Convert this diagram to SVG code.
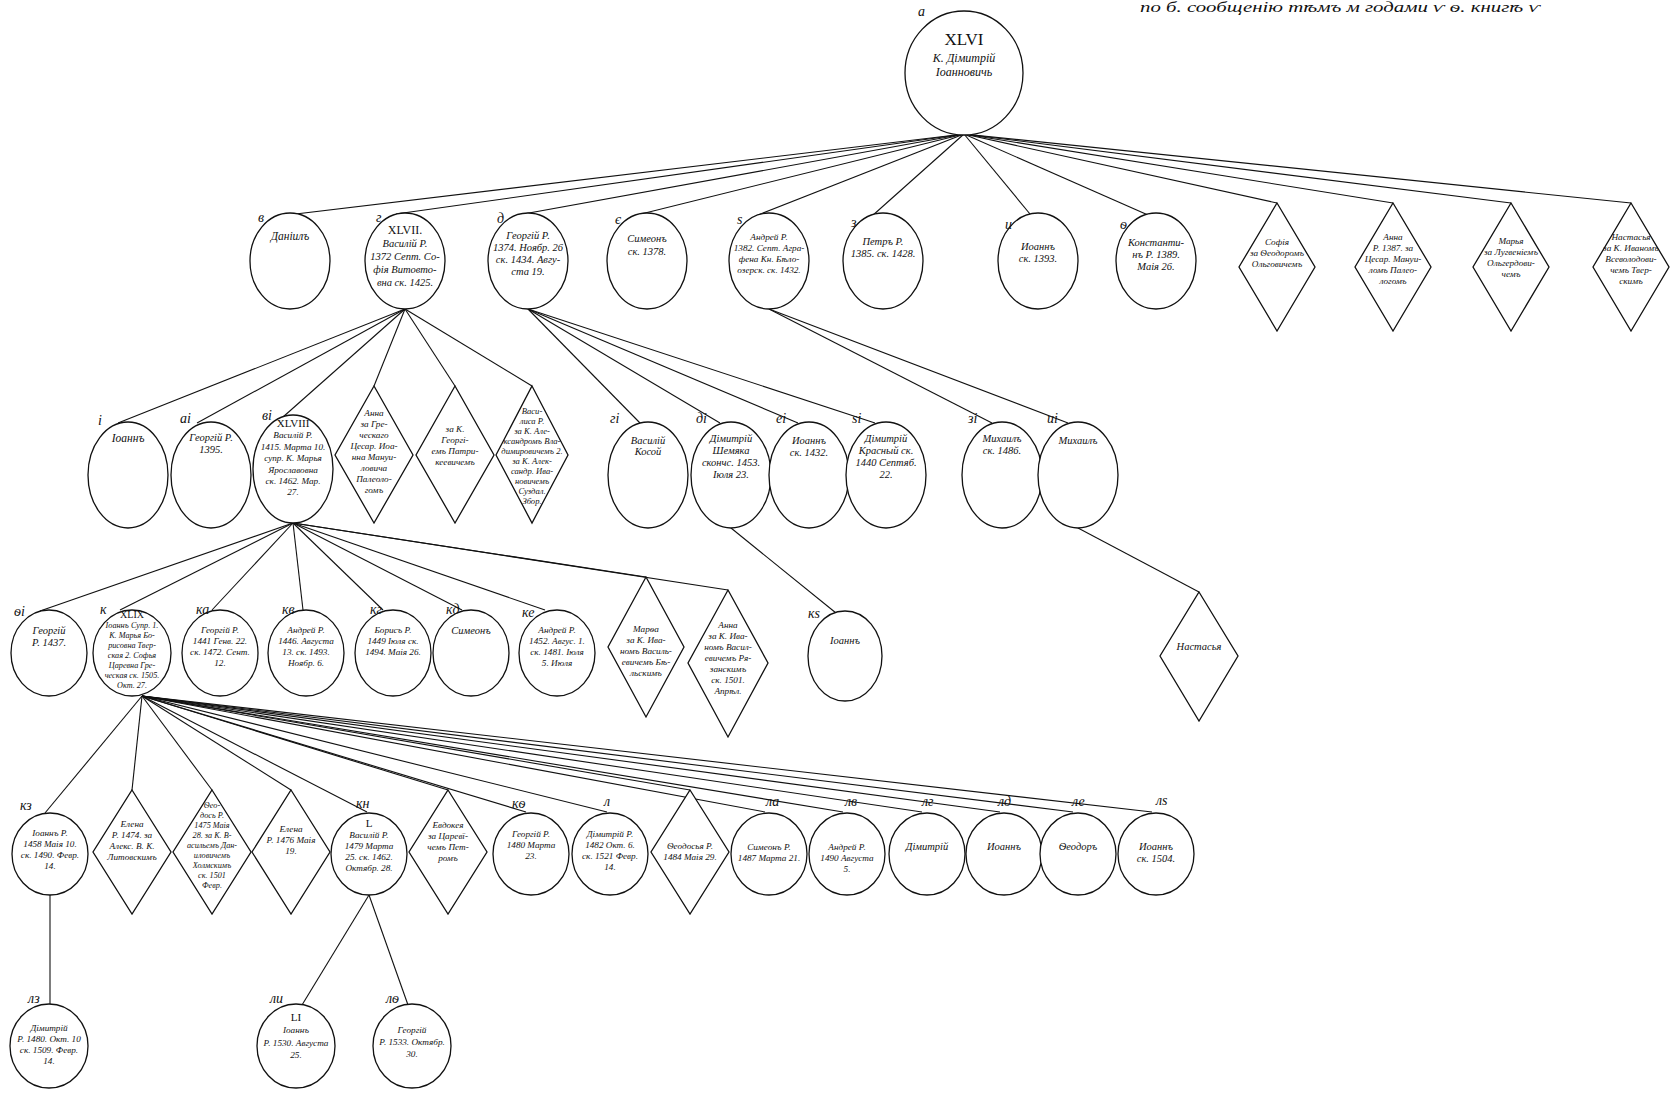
<svg xmlns="http://www.w3.org/2000/svg" width="1674" height="1099" viewBox="0 0 1674 1099">
<style>
.n{fill:#fff;stroke:#111;stroke-width:1.3}
.c line{stroke:#111;stroke-width:1.1}
.t{font-family:"Liberation Serif","DejaVu Serif",serif;font-style:italic;font-size:10.5px;fill:#111;text-anchor:middle}
.s{font-size:9.2px}
.m{font-size:11.5px}
.lb{font-family:"Liberation Serif","DejaVu Serif",serif;font-style:italic;font-size:14px;fill:#111}
.rn{font-style:normal;font-size:12px}
</style>
<rect width="1674" height="1099" fill="#fff"/>
<text class="t" x="1340" y="12" style="font-size:14px" textLength="400" lengthAdjust="spacingAndGlyphs">по б. сообщенію тѣмъ м годами ѵ ѳ. книгѣ ѵ</text>

<g id="connectors" class="c">
<line x1="964" y1="134" x2="279" y2="216"/>
<line x1="964" y1="134" x2="396" y2="214"/>
<line x1="964" y1="134" x2="518" y2="215"/>
<line x1="964" y1="134" x2="637" y2="215"/>
<line x1="964" y1="134" x2="758" y2="215"/>
<line x1="964" y1="134" x2="872" y2="216"/>
<line x1="964" y1="134" x2="1030" y2="214"/>
<line x1="964" y1="134" x2="1148" y2="215"/>
<line x1="964" y1="134" x2="1277" y2="203"/>
<line x1="964" y1="134" x2="1393" y2="203"/>
<line x1="964" y1="134" x2="1511" y2="203"/>
<line x1="964" y1="134" x2="1631" y2="203"/>
<line x1="405" y1="309" x2="118" y2="423"/>
<line x1="405" y1="309" x2="197" y2="423"/>
<line x1="405" y1="309" x2="283" y2="417"/>
<line x1="405" y1="309" x2="374" y2="386"/>
<line x1="405" y1="309" x2="455" y2="386"/>
<line x1="405" y1="309" x2="532" y2="386"/>
<line x1="528" y1="309" x2="640" y2="423"/>
<line x1="528" y1="309" x2="720" y2="423"/>
<line x1="528" y1="309" x2="798" y2="423"/>
<line x1="528" y1="309" x2="875" y2="423"/>
<line x1="769" y1="309" x2="992" y2="423"/>
<line x1="769" y1="309" x2="1068" y2="423"/>
<line x1="731" y1="528" x2="836" y2="613"/>
<line x1="1078" y1="528" x2="1199" y2="592"/>
<line x1="293" y1="523" x2="40" y2="611"/>
<line x1="293" y1="523" x2="120" y2="610"/>
<line x1="293" y1="523" x2="212" y2="610"/>
<line x1="293" y1="523" x2="303" y2="610"/>
<line x1="293" y1="523" x2="383" y2="610"/>
<line x1="293" y1="523" x2="462" y2="610"/>
<line x1="293" y1="523" x2="545" y2="610"/>
<line x1="293" y1="523" x2="646" y2="577"/>
<line x1="293" y1="523" x2="728" y2="590"/>
<line x1="142" y1="696" x2="45" y2="813"/>
<line x1="142" y1="696" x2="132" y2="790"/>
<line x1="142" y1="696" x2="212" y2="790"/>
<line x1="142" y1="696" x2="291" y2="790"/>
<line x1="142" y1="696" x2="367" y2="812"/>
<line x1="142" y1="696" x2="448" y2="790"/>
<line x1="142" y1="696" x2="526" y2="812"/>
<line x1="142" y1="696" x2="607" y2="812"/>
<line x1="142" y1="696" x2="690" y2="790"/>
<line x1="142" y1="696" x2="765" y2="812"/>
<line x1="142" y1="696" x2="843" y2="812"/>
<line x1="142" y1="696" x2="922" y2="812"/>
<line x1="142" y1="696" x2="1000" y2="812"/>
<line x1="142" y1="696" x2="1073" y2="812"/>
<line x1="142" y1="696" x2="1152" y2="812"/>
<line x1="50" y1="895" x2="50" y2="1004"/>
<line x1="369" y1="895" x2="302" y2="1005"/>
<line x1="369" y1="895" x2="408" y2="1005"/>
</g>

<g id="n-a"><ellipse class="n" cx="964" cy="73" rx="59" ry="62"/><text class="lb" x="918" y="16">а</text>
<text class="t" x="964" y="45" style="font-style:normal;font-size:17px">XLVI</text>
<text class="t" x="964" y="62" style="font-size:12px">К. Дімитрій<tspan x="964" dy="14">Іоанновичь</tspan></text></g>

<g id="n-v"><ellipse class="n" cx="290" cy="261" rx="40" ry="48"/><text class="lb" x="258" y="222">в</text>
<text class="t m" x="290" y="240">Даніилъ</text></g>
<g id="n-g"><ellipse class="n" cx="405" cy="261" rx="40" ry="48"/><text class="lb" x="376" y="222">г</text>
<text class="t" x="405" y="234"><tspan class="rn">XLVII.</tspan><tspan x="405" dy="13">Василій Р.</tspan><tspan x="405" dy="13">1372 Септ. Со-</tspan><tspan x="405" dy="13">фія Витовто-</tspan><tspan x="405" dy="13">вна ск. 1425.</tspan></text></g>
<g id="n-d"><ellipse class="n" cx="528" cy="261" rx="40" ry="48"/><text class="lb" x="497" y="223">д</text>
<text class="t" x="528" y="239">Георгій Р.<tspan x="528" dy="12">1374. Ноябр. 26</tspan><tspan x="528" dy="12">ск. 1434. Авгу-</tspan><tspan x="528" dy="12">ста 19.</tspan></text></g>
<g id="n-e"><ellipse class="n" cx="647" cy="261" rx="40" ry="48"/><text class="lb" x="615" y="224">є</text>
<text class="t" x="647" y="242">Симеонъ<tspan x="647" dy="13">ск. 1378.</tspan></text></g>
<g id="n-s"><ellipse class="n" cx="769" cy="261" rx="40" ry="48"/><text class="lb" x="737" y="224">ѕ</text>
<text class="t s" x="769" y="240">Андрей Р.<tspan x="769" dy="11">1382. Септ. Агра-</tspan><tspan x="769" dy="11">фена Кн. Бѣло-</tspan><tspan x="769" dy="11">озерск. ск. 1432.</tspan></text></g>
<g id="n-z"><ellipse class="n" cx="883" cy="261" rx="40" ry="48"/><text class="lb" x="851" y="227">з</text>
<text class="t" x="883" y="245">Петръ Р.<tspan x="883" dy="12">1385. ск. 1428.</tspan></text></g>
<g id="n-i"><ellipse class="n" cx="1038" cy="261" rx="40" ry="48"/><text class="lb" x="1005" y="229">и</text>
<text class="t" x="1038" y="250">Иоаннъ<tspan x="1038" dy="12">ск. 1393.</tspan></text></g>
<g id="n-f"><ellipse class="n" cx="1156" cy="261" rx="40" ry="48"/><text class="lb" x="1120" y="229">ѳ</text>
<text class="t" x="1156" y="246">Константи-<tspan x="1156" dy="12">нъ Р. 1389.</tspan><tspan x="1156" dy="12">Маія 26.</tspan></text></g>
<g id="n-sofia"><polygon class="n" points="1277,203 1315,267 1277,331 1239,267"/>
<text class="t s" x="1277" y="245">Софія<tspan x="1277" dy="11">за Ѳеодоромъ</tspan><tspan x="1277" dy="11">Ольговичемъ</tspan></text></g>
<g id="n-anna1"><polygon class="n" points="1393,203 1431,267 1393,331 1355,267"/>
<text class="t s" x="1393" y="240">Анна<tspan x="1393" dy="11">Р. 1387. за</tspan><tspan x="1393" dy="11">Цесар. Мануи-</tspan><tspan x="1393" dy="11">ломъ Палео-</tspan><tspan x="1393" dy="11">логомъ</tspan></text></g>
<g id="n-marya"><polygon class="n" points="1511,203 1549,267 1511,331 1473,267"/>
<text class="t s" x="1511" y="244">Марья<tspan x="1511" dy="11">за Лугвеніемъ</tspan><tspan x="1511" dy="11">Ольгердови-</tspan><tspan x="1511" dy="11">чемъ</tspan></text></g>
<g id="n-nastasya1"><polygon class="n" points="1631,203 1669,267 1631,331 1593,267"/>
<text class="t s" x="1631" y="240">Настасья<tspan x="1631" dy="11">за К. Иваномъ</tspan><tspan x="1631" dy="11">Всеволодови-</tspan><tspan x="1631" dy="11">чемъ Твер-</tspan><tspan x="1631" dy="11">скимъ</tspan></text></g>

<g id="n-10"><ellipse class="n" cx="128" cy="475" rx="40" ry="53"/><text class="lb" x="98" y="425">і</text>
<text class="t m" x="128" y="442">Іоаннъ</text></g>
<g id="n-11"><ellipse class="n" cx="211" cy="475" rx="40" ry="53"/><text class="lb" x="180" y="423">аі</text>
<text class="t" x="211" y="441">Георгій Р.<tspan x="211" dy="12">1395.</tspan></text></g>
<g id="n-12"><ellipse class="n" cx="293" cy="469" rx="40" ry="54"/><text class="lb" x="262" y="420">ві</text>
<text class="t s" x="293" y="427"><tspan class="rn" style="font-size:11px">XLVIII</tspan><tspan x="293" dy="11.4">Василій Р.</tspan><tspan x="293" dy="11.4">1415. Марта 10.</tspan><tspan x="293" dy="11.4">супр. К. Марья</tspan><tspan x="293" dy="11.4">Ярославовна</tspan><tspan x="293" dy="11.4">ск. 1462. Мар.</tspan><tspan x="293" dy="11.4">27.</tspan></text></g>
<g id="n-anna2"><polygon class="n" points="374,386 413,455 374,523 335,455"/>
<text class="t s" x="374" y="416">Анна<tspan x="374" dy="11">за Гре-</tspan><tspan x="374" dy="11">ческаго</tspan><tspan x="374" dy="11">Цесар. Иоа-</tspan><tspan x="374" dy="11">нна Мануи-</tspan><tspan x="374" dy="11">ловича</tspan><tspan x="374" dy="11">Палеоло-</tspan><tspan x="374" dy="11">гомъ</tspan></text></g>
<g id="n-daughter2"><polygon class="n" points="455,386 494,455 455,523 416,455"/>
<text class="t s" x="455" y="432">за К.<tspan x="455" dy="11">Георгі-</tspan><tspan x="455" dy="11">емъ Патри-</tspan><tspan x="455" dy="11">кеевичемъ</tspan></text></g>
<g id="n-vasilisa"><polygon class="n" points="532,386 568,455 532,523 496,455"/>
<text class="t" x="532" y="414" style="font-size:8.6px">Васи-<tspan x="532" dy="10">лиса Р.</tspan><tspan x="532" dy="10">за К. Але-</tspan><tspan x="532" dy="10">ксандромъ Вла-</tspan><tspan x="532" dy="10">димировичемъ 2.</tspan><tspan x="532" dy="10">за К. Алек-</tspan><tspan x="532" dy="10">сандр. Ива-</tspan><tspan x="532" dy="10">новичемъ</tspan><tspan x="532" dy="10">Суздал.</tspan><tspan x="532" dy="10">Збор.</tspan></text></g>

<g id="n-13"><ellipse class="n" cx="648" cy="475" rx="40" ry="53"/><text class="lb" x="610" y="423">гі</text>
<text class="t" x="648" y="444">Василій<tspan x="648" dy="11">Косой</tspan></text></g>
<g id="n-14"><ellipse class="n" cx="731" cy="475" rx="40" ry="53"/><text class="lb" x="696" y="423">ді</text>
<text class="t" x="731" y="442">Дімитрій<tspan x="731" dy="12">Шемяка</tspan><tspan x="731" dy="12">скончс. 1453.</tspan><tspan x="731" dy="12">Іюля 23.</tspan></text></g>
<g id="n-15"><ellipse class="n" cx="809" cy="475" rx="40" ry="53"/><text class="lb" x="776" y="423">еі</text>
<text class="t" x="809" y="444">Иоаннъ<tspan x="809" dy="12">ск. 1432.</tspan></text></g>
<g id="n-16"><ellipse class="n" cx="886" cy="475" rx="40" ry="53"/><text class="lb" x="852" y="423">ѕі</text>
<text class="t" x="886" y="442">Дімитрій<tspan x="886" dy="12">Красный ск.</tspan><tspan x="886" dy="12">1440 Септяб.</tspan><tspan x="886" dy="12">22.</tspan></text></g>
<g id="n-17"><ellipse class="n" cx="1002" cy="475" rx="40" ry="53"/><text class="lb" x="968" y="423">зі</text>
<text class="t" x="1002" y="442">Михаилъ<tspan x="1002" dy="12">ск. 1486.</tspan></text></g>
<g id="n-18"><ellipse class="n" cx="1078" cy="475" rx="40" ry="53"/><text class="lb" x="1047" y="423">иі</text>
<text class="t" x="1078" y="444">Михаилъ</text></g>

<g id="n-19"><ellipse class="n" cx="49" cy="653" rx="38" ry="43"/><text class="lb" x="14" y="616">ѳі</text>
<text class="t" x="49" y="634">Георгій<tspan x="49" dy="12">Р. 1437.</tspan></text></g>
<g id="n-20"><ellipse class="n" cx="132" cy="653" rx="39" ry="43"/><text class="lb" x="100" y="614">к</text>
<text class="t" x="132" y="618" style="font-size:8.2px"><tspan class="rn" style="font-size:10px">XLIX</tspan><tspan x="132" dy="10">Іоаннъ Супр. 1.</tspan><tspan x="132" dy="10">К. Марья Бо-</tspan><tspan x="132" dy="10">рисовна Твер-</tspan><tspan x="132" dy="10">ская 2. Софья</tspan><tspan x="132" dy="10">Царевна Гре-</tspan><tspan x="132" dy="10">ческая ск. 1505.</tspan><tspan x="132" dy="10">Окт. 27.</tspan></text></g>
<g id="n-21"><ellipse class="n" cx="220" cy="653" rx="38" ry="43"/><text class="lb" x="196" y="614">ка</text>
<text class="t s" x="220" y="633">Георгій Р.<tspan x="220" dy="11">1441 Генв. 22.</tspan><tspan x="220" dy="11">ск. 1472. Сент.</tspan><tspan x="220" dy="11">12.</tspan></text></g>
<g id="n-22"><ellipse class="n" cx="306" cy="653" rx="38" ry="43"/><text class="lb" x="282" y="614">кв</text>
<text class="t s" x="306" y="633">Андрей Р.<tspan x="306" dy="11">1446. Августа</tspan><tspan x="306" dy="11">13. ск. 1493.</tspan><tspan x="306" dy="11">Ноябр. 6.</tspan></text></g>
<g id="n-23"><ellipse class="n" cx="393" cy="653" rx="38" ry="43"/><text class="lb" x="370" y="614">кг</text>
<text class="t s" x="393" y="633">Борисъ Р.<tspan x="393" dy="11">1449 Іюля ск.</tspan><tspan x="393" dy="11">1494. Маія 26.</tspan></text></g>
<g id="n-24"><ellipse class="n" cx="471" cy="653" rx="38" ry="43"/><text class="lb" x="446" y="614">кд</text>
<text class="t" x="471" y="634">Симеонъ</text></g>
<g id="n-25"><ellipse class="n" cx="557" cy="653" rx="38" ry="43"/><text class="lb" x="522" y="617">ке</text>
<text class="t s" x="557" y="633">Андрей Р.<tspan x="557" dy="11">1452. Авгус. 1.</tspan><tspan x="557" dy="11">ск. 1481. Іюля</tspan><tspan x="557" dy="11">5. Июля</tspan></text></g>
<g id="n-marfa"><polygon class="n" points="646,577 684,647 646,717 608,647"/>
<text class="t s" x="646" y="632">Марѳа<tspan x="646" dy="11">за К. Ива-</tspan><tspan x="646" dy="11">номъ Василь-</tspan><tspan x="646" dy="11">евичемъ Бѣ-</tspan><tspan x="646" dy="11">льскимъ</tspan></text></g>
<g id="n-anna3"><polygon class="n" points="728,590 768,663 728,737 688,663"/>
<text class="t s" x="728" y="628">Анна<tspan x="728" dy="11">за К. Ива-</tspan><tspan x="728" dy="11">номъ Васил-</tspan><tspan x="728" dy="11">евичемъ Ря-</tspan><tspan x="728" dy="11">занскимъ</tspan><tspan x="728" dy="11">ск. 1501.</tspan><tspan x="728" dy="11">Апрѣл.</tspan></text></g>
<g id="n-26"><ellipse class="n" cx="845" cy="656" rx="37" ry="45"/><text class="lb" x="808" y="618">кѕ</text>
<text class="t" x="845" y="644">Іоаннъ</text></g>
<g id="n-nastasya2"><polygon class="n" points="1199,592 1238,656 1199,721 1160,656"/>
<text class="t" x="1199" y="650">Настасья</text></g>

<g id="n-27"><ellipse class="n" cx="50" cy="854" rx="38" ry="41"/><text class="lb" x="20" y="810">кз</text>
<text class="t s" x="50" y="836">Іоаннъ Р.<tspan x="50" dy="11">1458 Маія 10.</tspan><tspan x="50" dy="11">ск. 1490. Февр.</tspan><tspan x="50" dy="11">14.</tspan></text></g>
<g id="n-elena1"><polygon class="n" points="132,790 171,852 132,914 93,852"/>
<text class="t s" x="132" y="827">Елена<tspan x="132" dy="11">Р. 1474. за</tspan><tspan x="132" dy="11">Алекс. В. К.</tspan><tspan x="132" dy="11">Литовскимъ</tspan></text></g>
<g id="n-feodosya1"><polygon class="n" points="212,790 251,852 212,914 173,852"/>
<text class="t" x="212" y="808" style="font-size:8.2px">Ѳео-<tspan x="212" dy="10">дось Р.</tspan><tspan x="212" dy="10">1475 Маія</tspan><tspan x="212" dy="10">28. за К. В-</tspan><tspan x="212" dy="10">асильемъ Дан-</tspan><tspan x="212" dy="10">иловичемъ</tspan><tspan x="212" dy="10">Холмскимъ</tspan><tspan x="212" dy="10">ск. 1501</tspan><tspan x="212" dy="10">Февр.</tspan></text></g>
<g id="n-elena2"><polygon class="n" points="291,790 330,852 291,914 252,852"/>
<text class="t s" x="291" y="832">Елена<tspan x="291" dy="11">Р. 1476 Маія</tspan><tspan x="291" dy="11">19.</tspan></text></g>
<g id="n-28"><ellipse class="n" cx="369" cy="854" rx="38" ry="41"/><text class="lb" x="356" y="808">кн</text>
<text class="t s" x="369" y="827"><tspan class="rn" style="font-size:11px">L</tspan><tspan x="369" dy="11">Василій Р.</tspan><tspan x="369" dy="11">1479 Марта</tspan><tspan x="369" dy="11">25. ск. 1462.</tspan><tspan x="369" dy="11">Октябр. 28.</tspan></text></g>
<g id="n-evdokeya"><polygon class="n" points="448,790 487,852 448,914 409,852"/>
<text class="t s" x="448" y="828">Евдокея<tspan x="448" dy="11">за Царевї-</tspan><tspan x="448" dy="11">чемъ Пет-</tspan><tspan x="448" dy="11">ромъ</tspan></text></g>
<g id="n-29"><ellipse class="n" cx="531" cy="854" rx="38" ry="41"/><text class="lb" x="512" y="808">кѳ</text>
<text class="t s" x="531" y="837">Георгій Р.<tspan x="531" dy="11">1480 Марта</tspan><tspan x="531" dy="11">23.</tspan></text></g>
<g id="n-30"><ellipse class="n" cx="610" cy="854" rx="38" ry="41"/><text class="lb" x="604" y="806">л</text>
<text class="t s" x="610" y="837">Дімитрій Р.<tspan x="610" dy="11">1482 Окт. 6.</tspan><tspan x="610" dy="11">ск. 1521 Февр.</tspan><tspan x="610" dy="11">14.</tspan></text></g>
<g id="n-feodosya2"><polygon class="n" points="690,790 729,852 690,914 651,852"/>
<text class="t s" x="690" y="849">Ѳеодосья Р.<tspan x="690" dy="11">1484 Маія 29.</tspan></text></g>
<g id="n-31"><ellipse class="n" cx="769" cy="854" rx="38" ry="41"/><text class="lb" x="766" y="806">ла</text>
<text class="t s" x="769" y="850">Симеонъ Р.<tspan x="769" dy="11">1487 Марта 21.</tspan></text></g>
<g id="n-32"><ellipse class="n" cx="847" cy="854" rx="38" ry="41"/><text class="lb" x="845" y="806">лв</text>
<text class="t s" x="847" y="850">Андрей Р.<tspan x="847" dy="11">1490 Августа</tspan><tspan x="847" dy="11">5.</tspan></text></g>
<g id="n-33"><ellipse class="n" cx="927" cy="854" rx="38" ry="41"/><text class="lb" x="922" y="806">лг</text>
<text class="t" x="927" y="850">Дімитрій</text></g>
<g id="n-34"><ellipse class="n" cx="1004" cy="854" rx="38" ry="41"/><text class="lb" x="998" y="806">лд</text>
<text class="t" x="1004" y="850">Иоаннъ</text></g>
<g id="n-35"><ellipse class="n" cx="1078" cy="854" rx="38" ry="41"/><text class="lb" x="1072" y="806">ле</text>
<text class="t" x="1078" y="850">Ѳеодоръ</text></g>
<g id="n-36"><ellipse class="n" cx="1156" cy="854" rx="38" ry="41"/><text class="lb" x="1156" y="805">лѕ</text>
<text class="t" x="1156" y="850">Иоаннъ<tspan x="1156" dy="12">ск. 1504.</tspan></text></g>

<g id="n-37"><ellipse class="n" cx="49" cy="1046" rx="39" ry="42"/><text class="lb" x="28" y="1003">лз</text>
<text class="t s" x="49" y="1031">Дімитрій<tspan x="49" dy="11">Р. 1480. Окт. 10</tspan><tspan x="49" dy="11">ск. 1509. Февр.</tspan><tspan x="49" dy="11">14.</tspan></text></g>
<g id="n-38"><ellipse class="n" cx="296" cy="1046" rx="39" ry="42"/><text class="lb" x="270" y="1003">ли</text>
<text class="t s" x="296" y="1021"><tspan class="rn" style="font-size:11px">LI</tspan><tspan x="296" dy="12">Іоаннъ</tspan><tspan x="296" dy="13">Р. 1530. Августа</tspan><tspan x="296" dy="12">25.</tspan></text></g>
<g id="n-39"><ellipse class="n" cx="412" cy="1046" rx="39" ry="42"/><text class="lb" x="386" y="1003">лѳ</text>
<text class="t s" x="412" y="1033">Георгій<tspan x="412" dy="12">Р. 1533. Октябр.</tspan><tspan x="412" dy="12">30.</tspan></text></g>
</svg>
